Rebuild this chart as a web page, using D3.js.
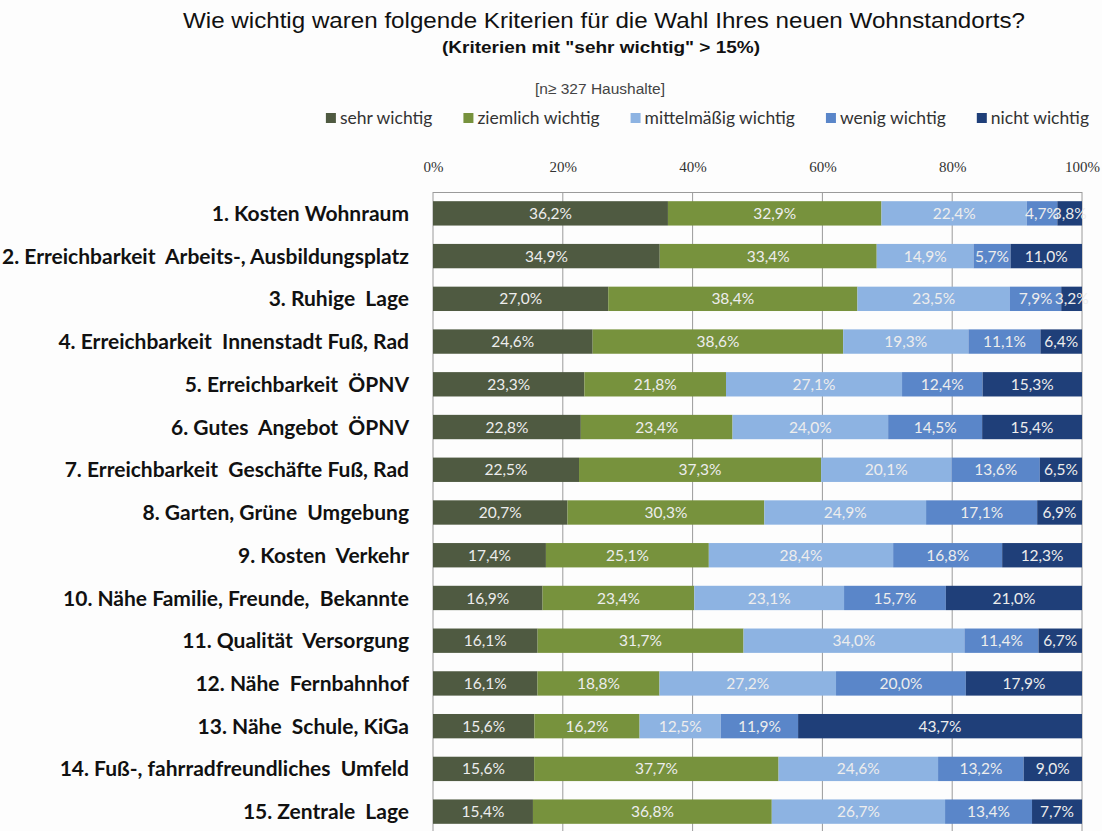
<!DOCTYPE html>
<html>
<head>
<meta charset="utf-8">
<script src="https://cdn.jsdelivr.net/npm/d3@7"></script>
<style>
  body { margin: 0; background: #fdfdfd; }
  svg { display: block; }
</style>
</head>
<body>
<script>
const categories = [
  '1. Kosten Wohnraum',
  '2. Erreichbarkeit  Arbeits-, Ausbildungsplatz',
  '3. Ruhige  Lage',
  '4. Erreichbarkeit  Innenstadt Fuß, Rad',
  '5. Erreichbarkeit  ÖPNV',
  '6. Gutes  Angebot  ÖPNV',
  '7. Erreichbarkeit  Geschäfte Fuß, Rad',
  '8. Garten, Grüne  Umgebung',
  '9. Kosten  Verkehr',
  '10. Nähe Familie, Freunde,  Bekannte',
  '11. Qualität  Versorgung',
  '12. Nähe  Fernbahnhof',
  '13. Nähe  Schule, KiGa',
  '14. Fuß-, fahrradfreundliches  Umfeld',
  '15. Zentrale  Lage'
];
const seriesNames = ['sehr wichtig', 'ziemlich wichtig', 'mittelmäßig wichtig', 'wenig wichtig', 'nicht wichtig'];
const seriesColors = ['#4f5a41', '#77923d', '#8db3e2', '#5a86c9', '#1f3f79'];

const sehrWichtig     = [36.2, 34.9, 27.0, 24.6, 23.3, 22.8, 22.5, 20.7, 17.4, 16.9, 16.1, 16.1, 15.6, 15.6, 15.4];
const ziemlichWichtig = [32.9, 33.4, 38.4, 38.6, 21.8, 23.4, 37.3, 30.3, 25.1, 23.4, 31.7, 18.8, 16.2, 37.7, 36.8];
const mittelWichtig   = [22.4, 14.9, 23.5, 19.3, 27.1, 24.0, 20.1, 24.9, 28.4, 23.1, 34.0, 27.2, 12.5, 24.6, 26.7];
const wenigWichtig    = [4.7, 5.7, 7.9, 11.1, 12.4, 14.5, 13.6, 17.1, 16.8, 15.7, 11.4, 20.0, 11.9, 13.2, 13.4];
const nichtWichtig    = [3.8, 11.0, 3.2, 6.4, 15.3, 15.4, 6.5, 6.9, 12.3, 21.0, 6.7, 17.9, 43.7, 9.0, 7.7];

const tickValues = [0, 0.2, 0.4, 0.6, 0.8, 1];

const svgWidth = 1102;
const svgHeight = 831;

const svg = d3.select('body')
  .append('svg')
  .attr('width', svgWidth)
  .attr('height', svgHeight);

// table for the stack
const seriesArrays = [sehrWichtig, ziemlichWichtig, mittelWichtig, wenigWichtig, nichtWichtig];
const rows = categories.map((c, i) => {
  const r = {cat: c};
  seriesNames.forEach((s, j) => { r[s] = seriesArrays[j][i]; });
  return r;
});

const stacked = d3.stack()
  .keys(seriesNames)
  .offset(d3.stackOffsetExpand)(rows);

const x = d3.scaleLinear().domain([0, 1]).range([433, 1082]);
const y = d3.scaleBand().domain(categories).range([192, 833]).paddingInner(0.43).paddingOuter(0.215);

const de = d3.formatLocale({decimal: ',', thousands: '.', grouping: [3], currency: ['', '€']});
const fmt = de.format('.1f');

// titles
svg.append('text')
  .attr('x', 604).attr('y', 28)
  .attr('text-anchor', 'middle')
  .attr('textLength', 842)
  .attr('lengthAdjust', 'spacingAndGlyphs')
  .style('font-family', '"Liberation Sans", Arial, sans-serif')
  .style('font-size', '22px')
  .style('fill', '#111')
  .text('Wie wichtig waren folgende Kriterien für die Wahl Ihres neuen Wohnstandorts?');

svg.append('text')
  .attr('x', 601).attr('y', 53)
  .attr('text-anchor', 'middle')
  .attr('textLength', 318)
  .attr('lengthAdjust', 'spacingAndGlyphs')
  .style('font-family', '"Liberation Sans", Arial, sans-serif')
  .style('font-weight', 'bold')
  .style('font-size', '17px')
  .style('fill', '#111')
  .text('(Kriterien mit "sehr wichtig" > 15%)');

svg.append('text')
  .attr('x', 600).attr('y', 94)
  .attr('text-anchor', 'middle')
  .style('font-family', '"Liberation Sans", Arial, sans-serif')
  .style('font-size', '15.5px')
  .style('fill', '#444')
  .text('[n\u2265 327 Haushalte]');

// legend, laid out from the right edge
const legend = svg.append('g').attr('class', 'legend');
const legendItems = legend.selectAll('g')
  .data(seriesNames)
  .enter()
  .append('g');
legendItems.append('rect')
  .attr('width', 10).attr('height', 10)
  .attr('y', 113)
  .attr('fill', (d, i) => seriesColors[i]);
legendItems.append('text')
  .attr('x', 14).attr('y', 124)
  .style('font-family', 'Lato, "Open Sans", sans-serif')
  .style('font-size', '17.5px')
  .style('fill', '#333')
  .text((d) => d);
let legendRight = 1089;
const legendNodes = legendItems.nodes().reverse();
legendNodes.forEach((node) => {
  const w = 14 + d3.select(node).select('text').node().getComputedTextLength();
  legendRight -= w;
  d3.select(node).attr('transform', `translate(${legendRight}, 0)`);
  legendRight -= 31;
});

// grid
const grid = svg.append('g').attr('class', 'grid');
grid.selectAll('line.v')
  .data(tickValues)
  .enter()
  .append('line')
  .attr('class', 'v')
  .attr('x1', (d) => x(d)).attr('x2', (d) => x(d))
  .attr('y1', 192).attr('y2', svgHeight)
  .attr('stroke', '#9a9a9a')
  .attr('stroke-width', 1);
grid.append('line')
  .attr('x1', x(0)).attr('x2', x(1))
  .attr('y1', 192.5).attr('y2', 192.5)
  .attr('stroke', '#9a9a9a');

// top axis tick labels
const xAxis = d3.axisTop(x)
  .tickValues(tickValues)
  .tickFormat(d3.format('.0%'))
  .tickSize(0)
  .tickPadding(0);
svg.append('g')
  .attr('transform', 'translate(0, 172)')
  .call(xAxis)
  .call((g) => g.select('.domain').remove())
  .selectAll('text')
  .style('font-family', '"Liberation Serif", "DejaVu Serif", serif')
  .style('font-size', '15px')
  .style('fill', '#333');

// category labels
const yAxis = d3.axisLeft(y).tickSize(0).tickPadding(0);
svg.append('g')
  .attr('transform', 'translate(409, 0)')
  .call(yAxis)
  .call((g) => g.select('.domain').remove())
  .selectAll('text')
  .attr('dy', '0.36em')
  .style('font-family', 'Lato, "Open Sans", sans-serif')
  .style('font-weight', 'bold')
  .style('font-size', '21px')
  .style('white-space', 'pre')
  .style('fill', '#111');

// bars
const layers = svg.append('g').attr('class', 'bars')
  .selectAll('g')
  .data(stacked)
  .enter()
  .append('g')
  .attr('fill', (d, i) => seriesColors[i]);

layers.selectAll('rect')
  .data((d) => d)
  .enter()
  .append('rect')
  .attr('x', (d) => x(d[0]))
  .attr('width', (d) => x(d[1]) - x(d[0]))
  .attr('y', (d) => y(d.data.cat))
  .attr('height', y.bandwidth());

// value labels
const labelLayers = svg.append('g').attr('class', 'labels')
  .selectAll('g')
  .data(stacked)
  .enter()
  .append('g');

labelLayers.selectAll('text')
  .data((s) => s.map((d) => ({d, key: s.key})))
  .enter()
  .append('text')
  .attr('x', (o) => (x(o.d[0]) + x(o.d[1])) / 2)
  .attr('y', (o) => y(o.d.data.cat) + y.bandwidth() / 2)
  .attr('dy', '0.36em')
  .attr('text-anchor', 'middle')
  .style('font-family', 'Lato, "Open Sans", sans-serif')
  .style('font-size', '15.5px')
  .style('fill', '#ededed')
  .text((o) => fmt(o.d.data[o.key]) + '%');
</script>
</body>
</html>
